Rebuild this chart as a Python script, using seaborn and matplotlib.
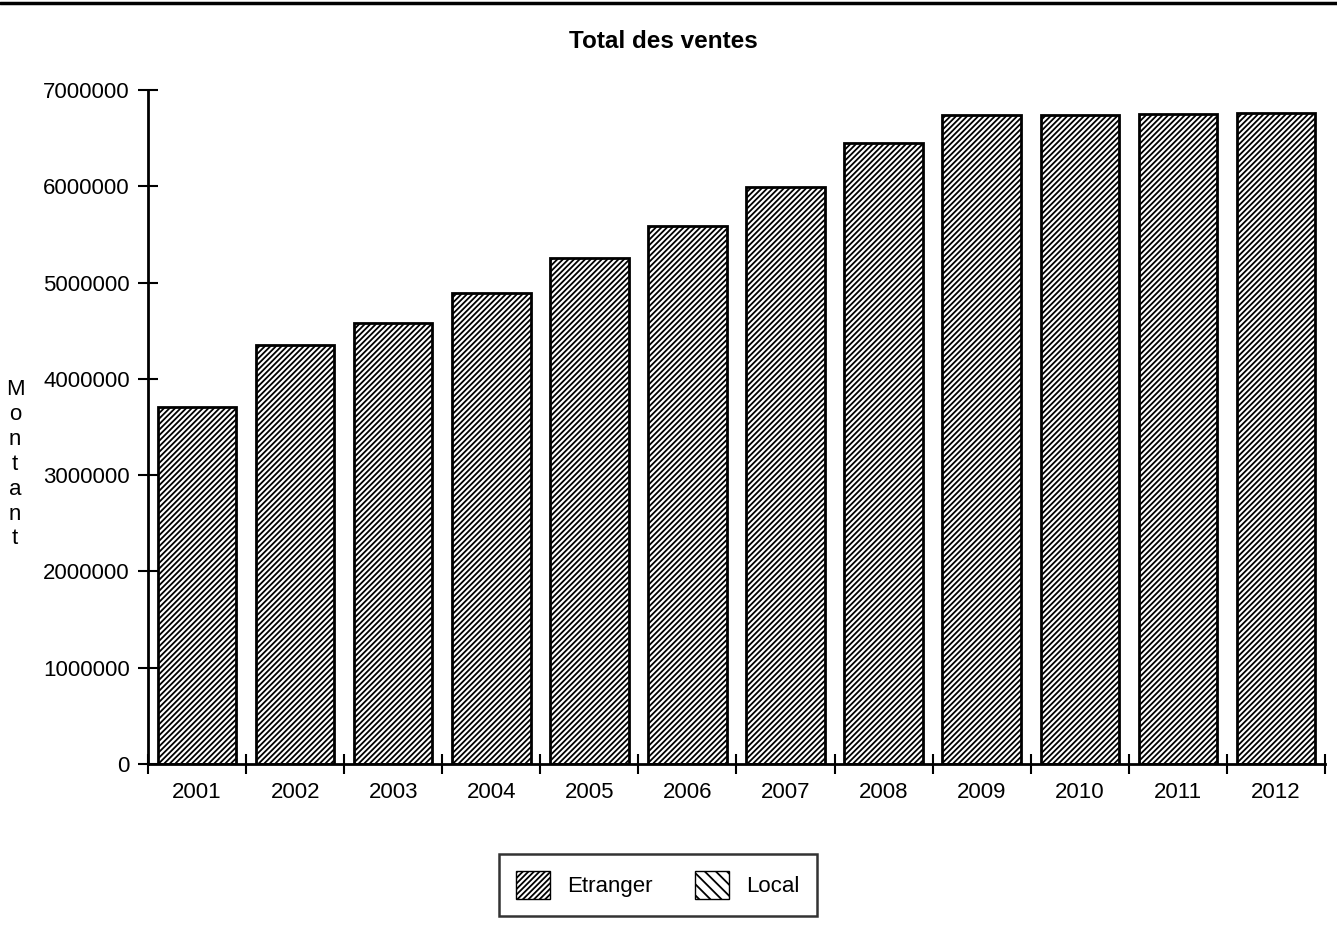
import matplotlib
matplotlib.use("Agg")
import matplotlib.pyplot as plt
import numpy as np
import pandas as pd
import seaborn as sns
from matplotlib.lines import Line2D
from matplotlib.patches import Patch
from matplotlib.ticker import FixedLocator, StrMethodFormatter

years = ["2001", "2002", "2003", "2004", "2005", "2006",
         "2007", "2008", "2009", "2010", "2011", "2012"]
etranger = [3710000, 4350000, 4580000, 4890000, 5250000, 5590000,
            5990000, 6450000, 6740000, 6740000, 6750000, 6760000]
local = [0, 0, 0, 0, 0, 0, 0, 0, 0, 0, 0, 0]

y_ticks = [0, 1000000, 2000000, 3000000, 4000000, 5000000, 6000000, 7000000]

sns.set_theme(style="white")
plt.rcParams["font.family"] = ["Liberation Sans", "DejaVu Sans"]
plt.rcParams["hatch.linewidth"] = 1.3
plt.rcParams["text.color"] = "black"
plt.rcParams["xtick.color"] = "black"
plt.rcParams["ytick.color"] = "black"

df = pd.DataFrame({"annee": years, "Etranger": etranger, "Local": local})

fig = plt.figure(figsize=(13.37, 9.30), dpi=100)
ax = fig.add_axes([148 / 1337, 1 - 764 / 930, 1177 / 1337, 674 / 930])

sns.barplot(data=df, x="annee", y="Etranger", color="white", edgecolor="black",
            linewidth=2.0, hatch="//////", width=0.8, saturation=1, ax=ax)
sns.barplot(data=df, x="annee", y="Local", color="white", edgecolor="black",
            linewidth=0, hatch="\\\\\\", width=0.8, saturation=1, ax=ax)

ax.set_xlim(-0.5, len(years) - 0.5)
ax.set_ylim(0, 7000000)
ax.set_yticks(y_ticks)
ax.yaxis.set_major_formatter(StrMethodFormatter("{x:.0f}"))
ax.tick_params(axis="y", direction="inout", length=14, width=1.5, labelsize=16,
               pad=6, left=True, color="black", labelcolor="black")

# year labels in the middle of each slot, tick marks on the slot borders
ax.tick_params(axis="x", which="major", length=0, labelsize=16, pad=13,
               labelcolor="black")
ax.xaxis.set_minor_locator(FixedLocator(np.arange(-0.5, len(years), 1.0)))
ax.tick_params(axis="x", which="minor", direction="inout", length=14, width=1.5,
               bottom=True, color="black")

ax.set_xlabel("")
ax.set_ylabel("")
for side in ["top", "right"]:
    ax.spines[side].set_visible(False)
for side in ["left", "bottom"]:
    ax.spines[side].set_color("black")
    ax.spines[side].set_linewidth(2.0)

fig.text(663 / 1337, 1 - 42 / 930, "Total des ventes", ha="center", va="center",
         fontsize=17.5, fontweight="bold")
fig.text(15 / 1337, 1 - 464 / 930, "\n".join("Montant"), ha="center", va="center",
         fontsize=16, linespacing=1.25)

handles = [
    Patch(facecolor="white", edgecolor="black", hatch="//////", label="Etranger"),
    Patch(facecolor="white", edgecolor="black", hatch="\\\\\\", label="Local"),
]
leg = fig.legend(handles=handles, loc="center", ncol=2,
                 bbox_to_anchor=(658 / 1337, 1 - 885 / 930),
                 fontsize=16, frameon=True, fancybox=False, handlelength=1.5,
                 handleheight=1.5, columnspacing=1.9, borderpad=0.8,
                 borderaxespad=0, labelcolor="black")
leg.get_frame().set_edgecolor("black")
leg.get_frame().set_linewidth(1.8)

fig.add_artist(Line2D([0, 1], [1 - 3 / 930, 1 - 3 / 930], color="black", linewidth=2.5))

fig.savefig("out.png", dpi=100)
